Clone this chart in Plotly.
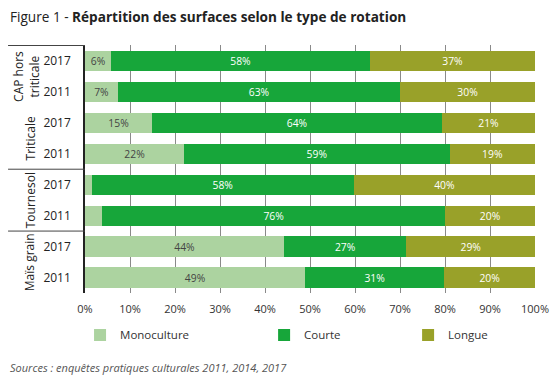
import plotly.graph_objects as go

# Data
categories = ["CAP hors triticale 2017", "CAP hors triticale 2011",
              "Triticale 2017", "Triticale 2011",
              "Tournesol 2017", "Tournesol 2011",
              "Maïs grain 2017", "Maïs grain 2011"]
years = ["2017", "2011", "2017", "2011", "2017", "2011", "2017", "2011"]
monoculture = [5.8, 7.3, 14.9, 22.0, 1.5, 3.8, 44.2, 48.9]
courte = [57.5, 62.7, 64.4, 59.0, 58.2, 76.2, 27.2, 30.9]
longue = [36.7, 30.0, 20.7, 19.0, 40.3, 20.0, 28.6, 20.2]
mono_labels = ["6%", "7%", "15%", "22%", "", "", "44%", "49%"]
courte_labels = ["58%", "63%", "64%", "59%", "58%", "76%", "27%", "31%"]
longue_labels = ["37%", "30%", "21%", "19%", "40%", "20%", "29%", "20%"]
groups = ["CAP hors<br>triticale", "Triticale", "Tournesol", "Maïs grain"]
x_ticks = [0, 10, 20, 30, 40, 50, 60, 70, 80, 90, 100]

FONT = "Open Sans"
C_MONO = "#acd3a0"
C_COURTE = "#17a63a"
C_LONGUE = "#99a129"

fig = go.Figure()
series = [
    ("Monoculture", monoculture, mono_labels, C_MONO, "#444444", "legend"),
    ("Courte", courte, courte_labels, C_COURTE, "#ffffff", "legend2"),
    ("Longue", longue, longue_labels, C_LONGUE, "#ffffff", "legend3"),
]
for name, vals, labels, color, tcol, leg in series:
    fig.add_trace(go.Bar(
        y=categories, x=vals, name=name, orientation="h",
        marker=dict(color=color, line=dict(width=0)),
        text=labels, textposition="inside", insidetextanchor="middle",
        textfont=dict(family=FONT, size=11, color=tcol),
        legend=leg, hoverinfo="skip", cliponaxis=False,
    ))

legend_common = dict(orientation="h", yanchor="middle", y=-0.169, xanchor="left",
                     font=dict(family=FONT, size=11.5, color="#333333"),
                     bgcolor="rgba(0,0,0,0)", itemwidth=30)

fig.update_layout(
    width=560, height=380,
    margin=dict(l=85, r=25, t=45, b=87, autoexpand=False),
    barmode="stack", bargap=0.35,
    plot_bgcolor="white", paper_bgcolor="white",
    font=dict(family=FONT, color="#333333"),
    showlegend=True,
    legend=dict(x=-0.011, **legend_common),
    legend2=dict(x=0.398, **legend_common),
    legend3=dict(x=0.718, **legend_common),
    xaxis=dict(range=[0, 100.001], tickvals=x_ticks,
               ticktext=[f"{v}%" for v in x_ticks],
               showgrid=True, gridcolor="#8a8a8a", gridwidth=1,
               zeroline=False, showline=False,
               tickfont=dict(family=FONT, size=11, color="#333333"),
               ticklabelstandoff=8, fixedrange=True),
    yaxis=dict(type="category", categoryorder="array", categoryarray=categories,
               autorange="reversed", tickvals=categories, ticktext=years,
               showgrid=False, showline=True, linecolor="#222222", linewidth=1.5,
               tickfont=dict(family=FONT, size=12, color="#222222"),
               ticklabelstandoff=10, fixedrange=True),
)

# Group labels
group_pos = [0.5, 2.5, 4.5, 6.5]
group_x = [-0.13, -0.122, -0.122, -0.124]
for g, yp, xp in zip(groups, group_pos, group_x):
    fig.add_annotation(text=g, x=xp, xref="paper", y=yp, yref="y",
                       xanchor="center", yanchor="middle",
                       textangle=-90, showarrow=False,
                       font=dict(family=FONT, size=12, color="#222222"))

# Separator lines
for yp in [-0.5, 3.5, 5.5]:
    fig.add_shape(type="line", xref="paper", yref="y", x0=-0.171, x1=0,
                  y0=yp, y1=yp, line=dict(color="#444444", width=1))

# Title
fig.add_annotation(text="Figure 1 - <b>Répartition des surfaces selon le type de rotation</b>",
                   xref="paper", yref="paper", x=-0.171, y=1.113, xanchor="left",
                   yanchor="middle", showarrow=False,
                   font=dict(family=FONT, size=13.6, color="#222222"))
# Source
fig.add_annotation(text="<i>Sources : enquêtes pratiques culturales 2011, 2014, 2017</i>",
                   xref="paper", yref="paper", x=-0.171, y=-0.302, xanchor="left",
                   yanchor="middle", showarrow=False,
                   font=dict(family=FONT, size=11, color="#555555"))

fig.write_html("out.html", config={"displayModeBar": False},
               post_script="document.body.style.margin='0';document.body.style.padding='0';")
